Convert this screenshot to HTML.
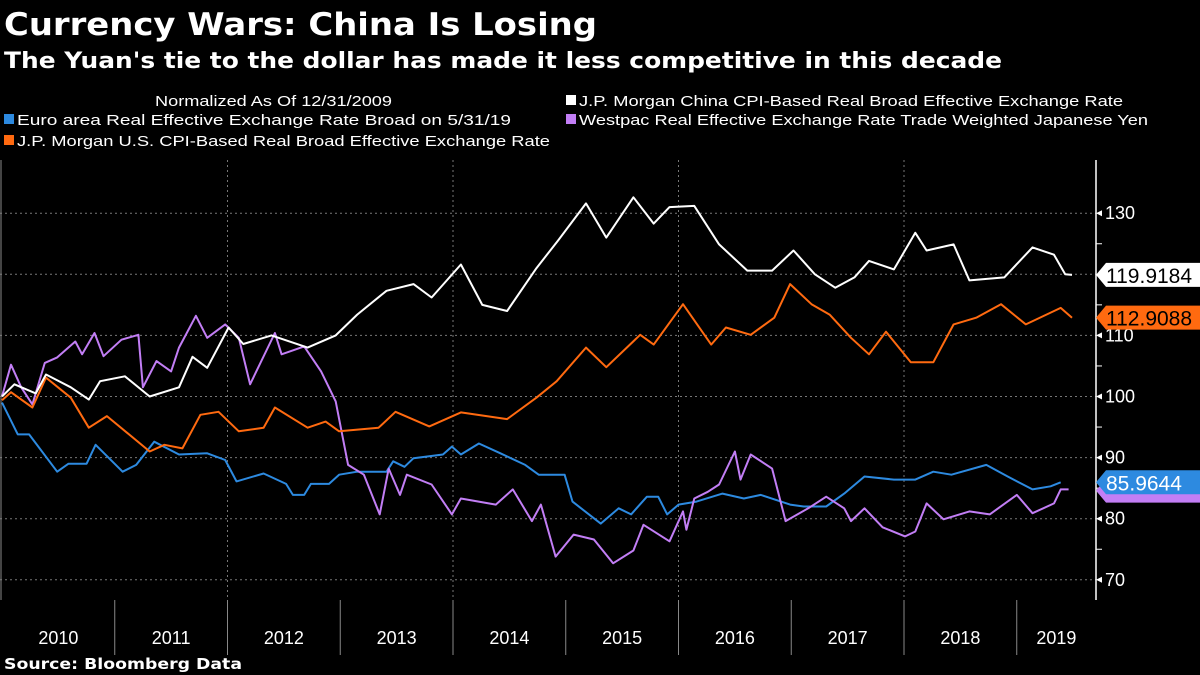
<!DOCTYPE html>
<html><head><meta charset="utf-8">
<style>
body{margin:0;background:#000;width:1200px;height:675px;overflow:hidden;font-family:"Liberation Sans",sans-serif;color:#fff}
svg{position:absolute;left:0;top:0}
</style></head>
<body>
<svg id="c" width="1200" height="675">
<text x="4" y="35" font-size="31" font-weight="bold" font-family="DejaVu Sans, sans-serif" textLength="593" lengthAdjust="spacingAndGlyphs" fill="#fff">Currency Wars: China Is Losing</text>
<text x="4" y="68" font-size="22" font-weight="bold" font-family="DejaVu Sans, sans-serif" textLength="998" lengthAdjust="spacingAndGlyphs" fill="#fff">The Yuan's tie to the dollar has made it less competitive in this decade</text>
<g font-size="15" fill="#fff">
<text x="155" y="106" textLength="237" lengthAdjust="spacingAndGlyphs">Normalized As Of 12/31/2009</text>
<rect x="4" y="114" width="10" height="10" fill="#2d8ae0"/>
<text x="17" y="125" textLength="494" lengthAdjust="spacingAndGlyphs">Euro area Real Effective Exchange Rate Broad  on 5/31/19</text>
<rect x="4" y="135" width="10" height="10" fill="#ff6a10"/>
<text x="17" y="146" textLength="533" lengthAdjust="spacingAndGlyphs">J.P. Morgan U.S. CPI-Based Real Broad Effective Exchange Rate</text>
<rect x="566" y="95" width="10" height="10" fill="#fff"/>
<text x="579" y="106" textLength="544" lengthAdjust="spacingAndGlyphs">J.P. Morgan China CPI-Based Real Broad Effective Exchange Rate</text>
<rect x="566" y="114" width="10" height="10" fill="#c27ef5"/>
<text x="579" y="125" textLength="569" lengthAdjust="spacingAndGlyphs">Westpac Real Effective Exchange Rate Trade Weighted Japanese Yen</text>
</g>
<g id="grid"></g>
<g id="axes"></g>
<g id="series"></g>
<g id="tags"></g>
<text x="4" y="669" font-size="15" font-weight="bold" font-family="DejaVu Sans, sans-serif" textLength="238" lengthAdjust="spacingAndGlyphs" fill="#fff">Source: Bloomberg Data</text>
</svg>
<script>
const yTicks=[70,80,90,100,110,120,130];
const years=[2010,2011,2012,2013,2014,2015,2016,2017,2018,2019];
const chinaT=[2010,2010.11,2010.30,2010.39,2010.61,2010.77,2010.87,2011.09,2011.31,2011.57,2011.69,2011.82,2012.01,2012.14,2012.39,2012.71,2012.96,2013.15,2013.41,2013.65,2013.81,2014.07,2014.26,2014.48,2014.74,2014.93,2015.18,2015.36,2015.60,2015.78,2015.92,2016.14,2016.36,2016.61,2016.83,2017.02,2017.21,2017.39,2017.56,2017.69,2017.91,2018.10,2018.20,2018.44,2018.58,2018.89,2019.14,2019.33,2019.43,2019.49];
const chinaV=[100,102,100.5,103.6,101.5,99.5,102.5,103.3,100,101.5,106.5,104.7,111.3,108.6,110,108,110,113.4,117.3,118.4,116.2,121.6,115,114,121,125.5,131.6,126,132.6,128.3,131,131.2,124.9,120.6,120.6,123.9,120,117.8,119.5,122.2,120.8,126.8,123.9,124.9,119,119.5,124.4,123.2,120,119.9];
const usT=[2010,2010.08,2010.27,2010.39,2010.61,2010.77,2010.93,2011.31,2011.44,2011.60,2011.76,2011.92,2012.10,2012.32,2012.42,2012.71,2012.87,2012.99,2013.34,2013.49,2013.79,2014.07,2014.48,2014.74,2014.92,2015.18,2015.36,2015.66,2015.78,2016.04,2016.29,2016.42,2016.64,2016.85,2016.99,2017.18,2017.34,2017.53,2017.69,2017.84,2018.06,2018.26,2018.44,2018.64,2018.86,2019.08,2019.39,2019.49];
const usV=[99.4,100.7,98.2,103.1,99.8,94.9,96.8,91,92.1,91.5,97,97.5,94.3,94.9,98.2,94.9,95.9,94.3,94.9,97.5,95.1,97.4,96.3,99.8,102.5,108,104.8,110.1,108.5,115.1,108.5,111.3,110.1,112.9,118.4,115.1,113.4,109.6,106.9,110.6,105.6,105.6,111.8,112.9,115.1,111.8,114.5,112.9];
const euroT=[2010,2010.14,2010.24,2010.49,2010.59,2010.75,2010.83,2011.07,2011.19,2011.35,2011.57,2011.82,2011.98,2012.08,2012.32,2012.52,2012.58,2012.68,2012.74,2012.90,2012.99,2013.15,2013.41,2013.47,2013.57,2013.65,2013.91,2013.99,2014.07,2014.23,2014.42,2014.64,2014.76,2014.99,2015.06,2015.31,2015.47,2015.58,2015.72,2015.82,2015.90,2016.00,2016.16,2016.39,2016.58,2016.73,2016.99,2017.11,2017.31,2017.47,2017.65,2017.91,2018.10,2018.26,2018.42,2018.73,2018.92,2019.14,2019.30,2019.39];
const euroV=[99,93.8,93.8,87.7,89,89,92.1,87.7,88.8,92.6,90.5,90.7,89.6,86.1,87.4,85.7,83.9,83.9,85.7,85.7,87.2,87.7,87.7,89.4,88.5,89.9,90.5,91.8,90.5,92.3,90.7,88.8,87.2,87.2,82.8,79.2,81.7,80.7,83.6,83.6,80.7,82.3,82.8,84.1,83.3,83.9,82.3,82,82,84.1,86.9,86.4,86.4,87.7,87.2,88.8,86.9,84.8,85.3,85.96];
const yenT=[2010,2010.08,2010.17,2010.27,2010.38,2010.49,2010.65,2010.71,2010.82,2010.90,2011.06,2011.21,2011.25,2011.37,2011.50,2011.57,2011.72,2011.82,2011.98,2012.10,2012.20,2012.42,2012.48,2012.68,2012.83,2012.96,2013.07,2013.21,2013.35,2013.43,2013.53,2013.59,2013.81,2013.99,2014.07,2014.38,2014.53,2014.70,2014.78,2014.91,2015.07,2015.25,2015.42,2015.60,2015.69,2015.92,2016.04,2016.07,2016.14,2016.26,2016.36,2016.50,2016.55,2016.64,2016.83,2016.95,2017.15,2017.31,2017.47,2017.53,2017.65,2017.81,2018.01,2018.10,2018.20,2018.35,2018.58,2018.76,2019.00,2019.14,2019.33,2019.39,2019.46];
const yenV=[100,105.2,101.5,98.7,105.5,106.4,109,106.9,110.4,106.6,109.3,110.1,101.5,105.8,104.1,108,113.2,109.6,111.8,109.6,102,110.4,106.9,108.2,104.1,99.2,88.8,87.2,80.7,88.2,83.9,87.2,85.6,80.7,83.3,82.3,84.8,79.6,82.3,73.8,77.4,76.6,72.7,74.8,79,76.3,81.2,78.2,83.3,84.4,85.6,91,86.4,90.5,88.2,79.6,81.7,83.6,81.7,79.6,81.7,78.6,77.1,77.9,82.5,79.9,81.2,80.7,83.9,80.9,82.5,84.8,84.8];
const lastChina="119.9184", lastUS="112.9088", lastEuro="85.9644", lastYen="84.8";

const NS="http://www.w3.org/2000/svg";
const X0=2,PXY=112.75,Y100=396.5,PXU=6.11,PL=0,PR=1096,PT=160,PB=600;
const xs=t=>X0+(t-2010)*PXY;
const ys=v=>Y100-(v-100)*PXU;
function mk(tag,at,parent){const e=document.createElementNS(NS,tag);for(const k in at)e.setAttribute(k,at[k]);parent.appendChild(e);return e;}
const grid=document.getElementById('grid'),axes=document.getElementById('axes'),ser=document.getElementById('series'),tags=document.getElementById('tags');
yTicks.forEach(v=>{
 const l=mk('line',{x1:PL,x2:PR,y1:ys(v),y2:ys(v),stroke:'#777','stroke-dasharray':'2,3','stroke-width':1},grid);
 
 
 const tk=mk('path',{d:`M${PR} ${ys(v)} l6 -3 v6 z`,fill:'#fff'},axes);
 
 
 const tx=mk('text',{x:PR+9,y:ys(v)+6,'font-size':18,fill:'#fff'},axes);tx.textContent=v;
 
 
});
for(let i=0;i<yTicks.length-1;i++){const v=yTicks[i]+5;
 const m=mk('line',{x1:PR,x2:PR+6,y1:ys(v),y2:ys(v),stroke:'#fff'},axes);
 
 }
years.forEach((y,i)=>{
 if(i%2===0&&i>0){const g=mk('line',{x1:xs(y),x2:xs(y),y1:PT,y2:PB,stroke:'#777','stroke-dasharray':'2,3'},grid);
  
  }
 if(i>0){const s=mk('line',{x1:xs(y),x2:xs(y),y1:PB,y2:655,stroke:'#888'},axes);
  
  }
 const cx=(xs(y)+Math.min(xs(y+1),PR))/2;
 const tx=mk('text',{x:cx,y:644,'font-size':18,fill:'#fff','text-anchor':'middle'},axes);tx.textContent=y;
 
 
});
const ax=mk('line',{x1:PR,x2:PR,y1:PT,y2:PB,stroke:'#fff','stroke-width':1.5},axes);


const lx=mk('line',{x1:1,x2:1,y1:PT,y2:PB,stroke:'#888'},axes);


function line(T,V,col,name){const d=T.map((t,i)=>(i?'L':'M')+xs(t).toFixed(1)+' '+ys(V[i]).toFixed(1)).join(' ');
 const p=mk('path',{d:d,fill:'none',stroke:col,'stroke-width':2,'stroke-linejoin':'round'},ser);
 
 }
line(euroT,euroV,'#2d8ae0','series-euro');
line(yenT,yenV,'#c27ef5','series-yen');
line(usT,usV,'#ff6a10','series-us');
line(chinaT,chinaV,'#ffffff','series-china');
function tag(v,txt,bg,fg,name){const y=ys(v);
 const g=mk('g',{},tags);
 
 
 mk('path',{d:`M${PR} ${y} L${PR+10} ${y-12} H1200 V${y+12} H${PR+10} Z`,fill:bg},g);
 const t=mk('text',{x:PR+10,y:y+8,'font-size':21,fill:fg},g);t.textContent=txt;}
tag(yenV[yenV.length-1]-0.2,lastYen,'#c27ef5','#c27ef5','last-value-yen');
tag(euroV[euroV.length-1],lastEuro,'#2d8ae0','#fff','last-value-euro');
tag(usV[usV.length-1],lastUS,'#ff6a10','#000','last-value-us');
tag(chinaV[chinaV.length-1],lastChina,'#fff','#000','last-value-china');
</script>
</body></html>
